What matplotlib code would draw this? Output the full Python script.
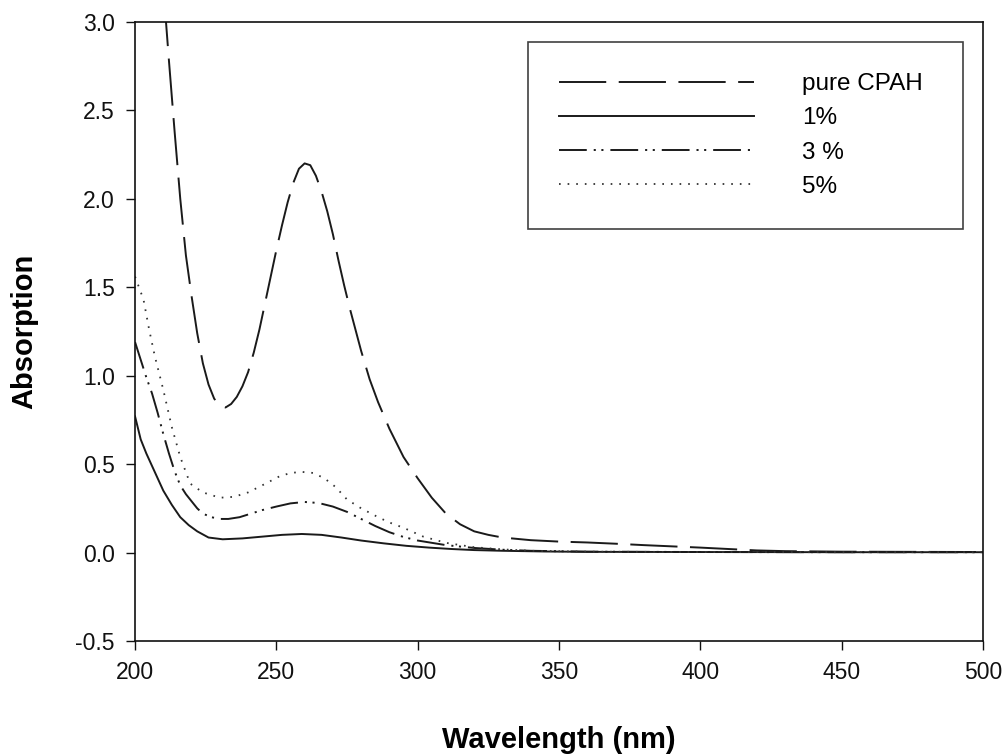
import matplotlib
matplotlib.use("Agg")
import matplotlib.pyplot as plt

plt.rcParams['font.family'] = ['Liberation Sans', 'DejaVu Sans']
plt.rcParams['lines.scale_dashes'] = False

# Pure CPAH (dashed)
wl_pure = [210, 212, 214, 216, 218, 220, 222, 224, 226, 228, 230, 232, 234, 236, 238,
           240, 242, 244, 246, 248, 250, 252, 254, 256, 258, 260, 262, 264, 266, 268,
           270, 272, 274, 276, 278, 280, 283, 286, 290, 295, 300, 305, 310, 315, 320,
           325, 330, 340, 350, 360, 370, 380, 390, 400, 410, 420, 430, 450, 500]
abs_pure = [3.20, 2.78, 2.38, 2.00, 1.68, 1.45, 1.24, 1.07, 0.95, 0.87, 0.83, 0.82, 0.84,
            0.88, 0.94, 1.02, 1.13, 1.26, 1.41, 1.56, 1.71, 1.85, 1.98, 2.09, 2.17, 2.20,
            2.19, 2.13, 2.04, 1.93, 1.80, 1.65, 1.51, 1.38, 1.26, 1.14, 0.98, 0.85, 0.70,
            0.54, 0.42, 0.31, 0.22, 0.16, 0.12, 0.10, 0.085, 0.07, 0.062, 0.057, 0.05,
            0.042, 0.035, 0.028, 0.02, 0.012, 0.008, 0.005, 0.003]

# 1% (solid)
wl_1 = [200, 202, 204, 206, 208, 210, 213, 216, 219, 222, 226, 231, 238, 245, 252, 259,
        266, 273, 280, 288, 296, 304, 312, 320, 330, 345, 360, 400, 450, 500]
abs_1 = [0.77, 0.64, 0.56, 0.49, 0.42, 0.35, 0.27, 0.20, 0.155, 0.12, 0.085, 0.075, 0.08,
         0.09, 0.10, 0.105, 0.10, 0.085, 0.068, 0.052, 0.038, 0.028, 0.02, 0.014, 0.01,
         0.006, 0.004, 0.003, 0.002, 0.002]

# 3% (dash-dot-dot)
wl_3 = [200, 202, 204, 206, 208, 210, 212, 214, 216, 218, 220, 222, 224, 227, 230, 233,
        237, 241, 245, 250, 255, 260, 265, 270, 275, 280, 285, 290, 295, 300, 310, 320,
        330, 340, 360, 400, 450, 500]
abs_3 = [1.19, 1.09, 0.99, 0.90, 0.79, 0.67, 0.56, 0.46, 0.38, 0.33, 0.29, 0.25, 0.22,
         0.20, 0.19, 0.19, 0.20, 0.22, 0.24, 0.26, 0.278, 0.286, 0.28, 0.26, 0.23, 0.19,
         0.15, 0.115, 0.088, 0.068, 0.042, 0.026, 0.016, 0.01, 0.005, 0.003, 0.002, 0.002]

# 5% (dotted)
wl_5 = [200, 203, 205, 207, 210, 213, 216, 219.5, 224, 230, 235, 240, 245, 251, 255, 259,
        263, 267, 271, 275, 280, 286, 290, 295, 302, 310, 320, 330, 340, 360, 400, 450, 500]
abs_5 = [1.56, 1.43, 1.26, 1.11, 0.92, 0.71, 0.54, 0.39, 0.34, 0.31, 0.315, 0.34, 0.38,
         0.43, 0.45, 0.456, 0.45, 0.42, 0.37, 0.30, 0.25, 0.20, 0.17, 0.14, 0.09, 0.055,
         0.03, 0.018, 0.01, 0.005, 0.003, 0.002, 0.002]

labels = ['pure CPAH', '1%', '3 %', '5%']
xticks = [200, 250, 300, 350, 400, 450, 500]
yticks = [-0.5, 0.0, 0.5, 1.0, 1.5, 2.0, 2.5, 3.0]

fig = plt.figure(figsize=(10.04, 7.55), dpi=100)
ax = fig.add_axes([0.1345, 0.151, 0.8445, 0.820])

lc = '#1a1a1a'
ax.plot(wl_pure, abs_pure, color=lc, lw=1.4, linestyle=(0, (34, 9)), label=labels[0])
ax.plot(wl_1, abs_1, color=lc, lw=1.4, linestyle='-', label=labels[1])
ax.plot(wl_3, abs_3, color=lc, lw=1.4, linestyle=(0, (20, 5, 1.5, 4, 1.5, 5)), label=labels[2])
ax.plot(wl_5, abs_5, color='#333333', lw=1.3, linestyle=(0, (1.2, 5)), label=labels[3])

ax.set_xlim(200, 500)
ax.set_ylim(-0.5, 3.0)
ax.set_xticks(xticks)
ax.set_yticks(yticks)
ax.set_xticklabels([str(t) for t in xticks])
ax.set_yticklabels([f"{t:.1f}" for t in yticks])
ax.tick_params(direction='out', length=6.5, width=1, labelsize=16.5, pad=8,
               colors='#111111')
for s in ax.spines.values():
    s.set_linewidth(1.2)
    s.set_color('#111111')

ax.set_xlabel('Wavelength (nm)', fontsize=21, fontweight='bold', labelpad=30)
ax.set_ylabel('Absorption', fontsize=21, fontweight='bold', labelpad=27)

leg = ax.legend(loc='upper left', bbox_to_anchor=(0.463, 0.669, 0.513, 0.299),
                mode='expand', fontsize=17.5, handlelength=8.0, handletextpad=2.0,
                labelspacing=0.5, borderpad=1.3, borderaxespad=0,
                fancybox=False, frameon=True)
leg.get_frame().set_edgecolor('#111111')
leg.get_frame().set_linewidth(1.2)

fig.savefig('out.png', dpi=100)
